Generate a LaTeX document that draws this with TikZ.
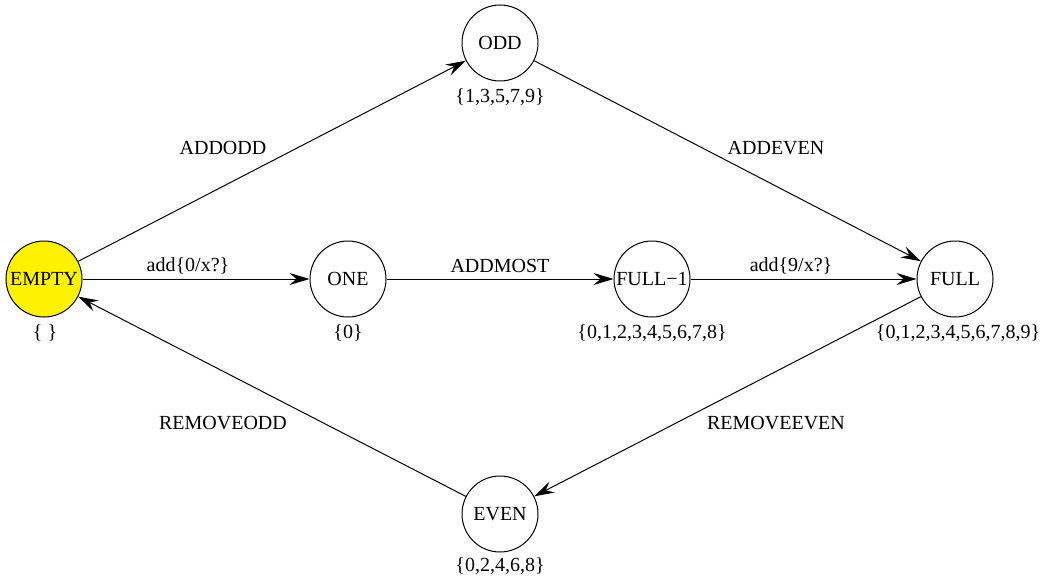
\documentclass[tikz,border=0pt]{standalone}
\usepackage{fontspec}
\setmainfont{Liberation Serif}
\usetikzlibrary{arrows.meta}
\begin{document}
\begin{tikzpicture}[x=1pt,y=-1pt,
  every node/.style={font=\fontsize{20}{24}\selectfont},
  state/.style={circle,draw=black,line width=1pt,minimum size=76pt,inner sep=0pt},
  setlab/.style={inner sep=0pt},
  elab/.style={inner sep=0pt},
  conn/.style={line width=1pt,-{Stealth[length=20pt,width=12pt,inset=7pt]}}]
\useasboundingbox (0,0) rectangle (1052,583);
\node[state,fill=yellow] (empty) at (44,279) {EMPTY};
\node[state] (odd) at (500,43) {ODD};
\node[state] (one) at (348,279) {ONE};
\node[state] (fullm) at (652,279) {FULL−1};
\node[state] (full) at (955,279) {FULL};
\node[state] (even) at (500,514) {EVEN};
\node[setlab] (sempty) at (45,333) {\{ \}};
\node[setlab] (sodd) at (500,97) {\{1,3,5,7,9\}};
\node[setlab] (sone) at (348,333) {\{0\}};
\node[setlab] (sfullm) at (652,333) {\{0,1,2,3,4,5,6,7,8\}};
\node[setlab] (sfull) at (958,333) {\{0,1,2,3,4,5,6,7,8,9\}};
\node[setlab] (seven) at (500,566) {\{0,2,4,6,8\}};
\draw[conn] (empty) -- (odd);
\draw[conn] (odd) -- (full);
\draw[conn] (empty) -- (one);
\draw[conn] (one) -- (fullm);
\draw[conn] (fullm) -- (full);
\draw[conn] (full) -- (even);
\draw[conn] (even) -- (empty);
\node[elab] (l1) at (223,148) {ADDODD};
\node[elab] (l2) at (776,148) {ADDEVEN};
\node[elab] (l3) at (188,266) {add\{0/x?\}};
\node[elab] (l4) at (500,266) {ADDMOST};
\node[elab] (l5) at (791,266) {add\{9/x?\}};
\node[elab] (l6) at (223,423) {REMOVEODD};
\node[elab] (l7) at (776,423) {REMOVEEVEN};
\end{tikzpicture}
\end{document}
